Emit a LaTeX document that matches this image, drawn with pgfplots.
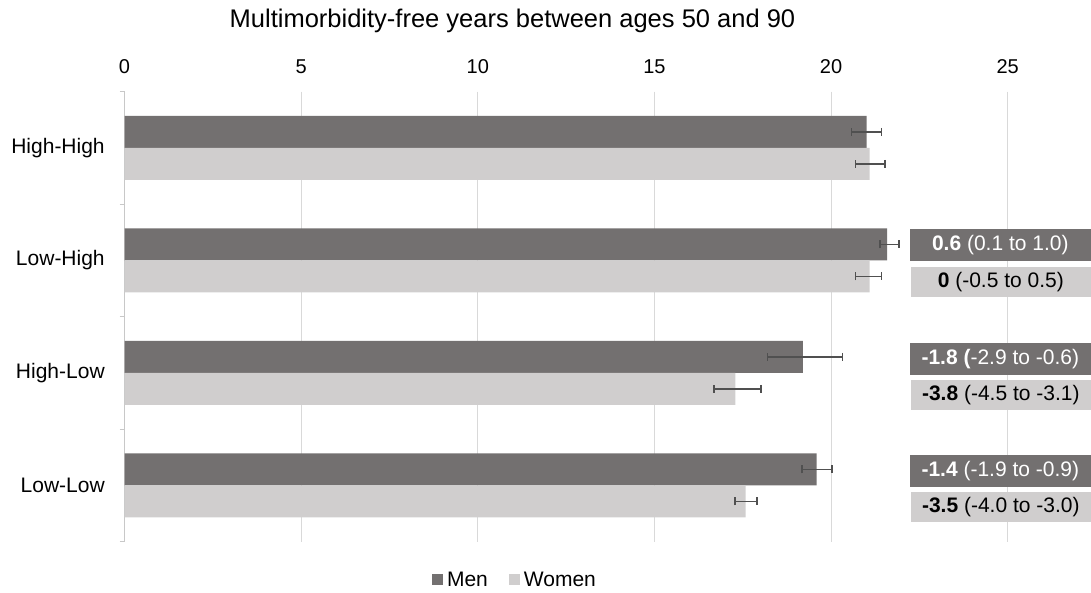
\documentclass[border=0pt]{standalone}
\usepackage{pgfplots}
\pgfplotsset{compat=1.18}
\usepackage{fontspec}
\setmainfont{Liberation Sans}
\definecolor{men}{RGB}{115,112,112}
\definecolor{women}{RGB}{208,206,206}
\definecolor{errc}{RGB}{80,80,80}
\definecolor{gridc}{RGB}{217,217,217}
\definecolor{axc}{RGB}{200,200,200}
\begin{document}
\begin{tikzpicture}
\path[use as bounding box] (0,0) rectangle (1091pt,592pt);
\begin{axis}[
  at={(124.5pt,50.3pt)}, anchor=south west,
  width=966.5pt, height=450pt, scale only axis,
  xmin=0, xmax=27.36, ymin=0.5, ymax=4.5,
  y dir=reverse,
  axis y line*=left, axis x line*=top,
  x axis line style={draw=none},
  y axis line style={draw=axc, line width=1pt},
  xtick={0,5,10,15,20,25},
  xticklabel pos=upper,
  xtick style={draw=none},
  xmajorgrids, major grid style={draw=gridc, line width=1pt},
  xticklabel style={font=\fontsize{20}{22}\selectfont, anchor=south, yshift=10pt},
  /pgf/number format/assume math mode=true,
  ytick={1,2,3,4},
  yticklabels={High-High,Low-High,High-Low,Low-Low},
  yticklabel style={font=\fontsize{21}{24}\selectfont, anchor=east, xshift=-12pt},
  major y tick style={draw=none},
  minor ytick={0.5,1.5,2.5,3.5,4.5},
  minor y tick style={draw=axc, line width=1pt},
  minor tick length=5pt,
  tick align=outside,
  clip=false,
  legend style={at={(0.404,-0.085)}, anchor=center, draw=none, fill=none,
    legend columns=2, font=\fontsize{21}{24}\selectfont,
    /tikz/every odd column/.append style={column sep=2pt},
    /tikz/every even column/.append style={column sep=19pt}},
  legend image code/.code={\fill[#1] (0pt,-5.5pt) rectangle (11pt,5.5pt);},
  error bars/error bar style={line width=1.6pt, color=errc},
  error bars/error mark options={line width=1.6pt, color=errc, mark size=4pt, rotate=90},
]
\addplot[xbar, bar width=32pt, bar shift=0pt, fill=men, draw=none,
  error bars/.cd, x dir=both, x explicit]
  table[x=x, y=y, x error plus=ep, x error minus=em] {
y x ep em
0.858 21.01 0.42 0.43
1.858 21.59 0.33 0.20
2.858 19.20 1.12 1.00
3.858 19.59 0.43 0.41
};
\addlegendentry{Men}
\addplot[xbar, bar width=32pt, bar shift=0pt, fill=women, draw=none,
  error bars/.cd, x dir=both, x explicit]
  table[x=x, y=y, x error plus=ep, x error minus=em] {
y x ep em
1.142 21.09 0.44 0.40
2.142 21.09 0.34 0.40
3.142 17.29 0.73 0.60
4.142 17.58 0.33 0.29
};
\addlegendentry{Women}
\tikzset{dbox/.style={fill=men, text=white, minimum width=181pt, minimum height=32pt, anchor=east, inner sep=0pt, font=\fontsize{21}{24}\selectfont},
         lbox/.style={fill=women, text=black, minimum width=180pt, minimum height=30pt, anchor=east, inner sep=0pt, font=\fontsize{21}{24}\selectfont}}
\node[dbox] at (axis cs:27.36,1.863) {\textbf{0.6} (0.1 to 1.0)};
\node[lbox] at (axis cs:27.36,2.192) {\textbf{0} (-0.5 to 0.5)};
\node[dbox] at (axis cs:27.36,2.874) {\textbf{-1.8 (}-2.9 to -0.6)};
\node[lbox] at (axis cs:27.36,3.196) {\textbf{-3.8} (-4.5 to -3.1)};
\node[dbox] at (axis cs:27.36,3.872) {\textbf{-1.4} (-1.9 to -0.9)};
\node[lbox] at (axis cs:27.36,4.192) {\textbf{-3.5} (-4.0 to -3.0)};
\end{axis}
\node[font=\fontsize{25.5}{29}\selectfont] at (512.5pt,571pt) {Multimorbidity-free years between ages 50 and 90};
\end{tikzpicture}
\end{document}
